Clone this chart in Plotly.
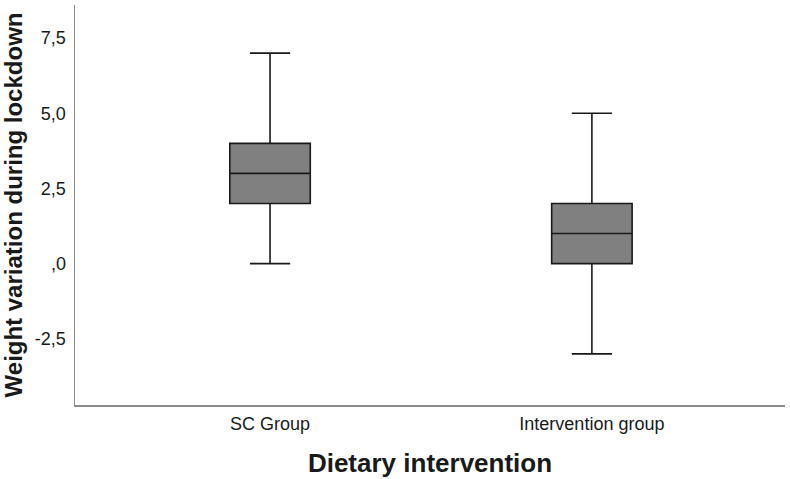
import plotly.graph_objects as go

categories = ["SC Group", "Intervention group"]
lower_fence = [0.0, -3.0]
q1 = [2.0, 0.0]
median = [3.0, 1.0]
q3 = [4.0, 2.0]
upper_fence = [7.0, 5.0]
ytick_vals = [-2.5, 0.0, 2.5, 5.0, 7.5]
ytick_text = ["-2,5", ",0", "2,5", "5,0", "7,5"]

fig = go.Figure()
fig.add_trace(go.Box(
    x=categories,
    q1=q1, median=median, q3=q3,
    lowerfence=lower_fence, upperfence=upper_fence,
    fillcolor="#808080",
    line=dict(color="#1a1a1a", width=1.6),
    width=0.25,
    whiskerwidth=0.5,
    boxpoints=False,
    hoverinfo="skip",
    showlegend=False,
))

fig.update_layout(
    width=790, height=479,
    margin=dict(l=75, r=5, t=5, b=74),
    paper_bgcolor="white", plot_bgcolor="white",
    font=dict(family="Liberation Sans, Arial, sans-serif", color="#1a1a1a"),
    xaxis=dict(
        type="category",
        range=[-0.606, 1.6],
        automargin=False,
        showline=True, linecolor="#8c8c8c", linewidth=1.5,
        showgrid=False, zeroline=False, ticks="",
        tickfont=dict(size=18),
        ticklabelstandoff=2,
        title=dict(text="<b>Dietary intervention</b>", font=dict(size=26), standoff=20),
    ),
    yaxis=dict(
        range=[-4.7, 8.6],
        automargin=False,
        tickvals=ytick_vals, ticktext=ytick_text,
        showline=True, linecolor="#8c8c8c", linewidth=1.5,
        showgrid=False, zeroline=False, ticks="",
        tickfont=dict(size=18),
        ticklabelstandoff=4,
        title=dict(text="<b>Weight variation during lockdown</b>", font=dict(size=24), standoff=9),
    ),
)

fig.write_html(
    "out.html",
    config={"displayModeBar": False, "staticPlot": True},
    post_script="document.body.style.margin='0';document.body.style.overflow='hidden';",
)
